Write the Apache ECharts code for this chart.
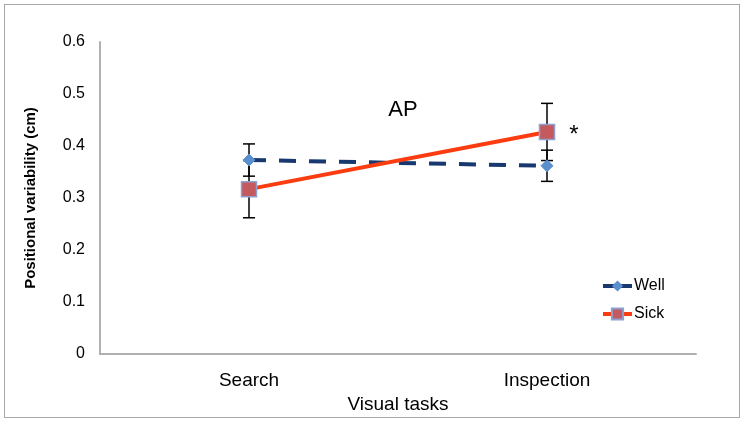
<!DOCTYPE html>
<html>
<head>
<meta charset="UTF-8">
<title>AP</title>
<script type="text/javascript" src="https://cdn.jsdelivr.net/npm/echarts@6/dist/echarts.min.js"></script>
<style>
  body{margin:0;padding:0;background:#fff}
  #frame{position:absolute;left:4px;top:4px;width:736px;height:414px;border:1.5px solid #a8a8a8;box-sizing:border-box}
</style>
</head>
<body>
<div id="frame"></div>
<div id="main" style="position:absolute;left:0;top:0;width:747px;height:424px"></div>
<script type="text/javascript">
  // data
  var tasks = ['Search', 'Inspection'];
  var well = [0.373, 0.362];
  var wellErr = [0.031, 0.030];
  var sick = [0.317, 0.427];
  var sickErr = [0.055, 0.055];

  function errData(vals, errs) {
    return vals.map(function (v, i) {
      return [i, v - errs[i], v + errs[i]];
    });
  }

  function renderErr(params, api) {
    var x = api.value(0);
    var lo = api.coord([x, api.value(1)]);
    var hi = api.coord([x, api.value(2)]);
    var cap = 6;
    var st = { stroke: '#000', lineWidth: 1.5 };
    return {
      type: 'group',
      children: [
        { type: 'line', shape: { x1: lo[0], y1: lo[1], x2: hi[0], y2: hi[1] }, style: st },
        { type: 'line', shape: { x1: lo[0] - cap, y1: lo[1], x2: lo[0] + cap, y2: lo[1] }, style: st },
        { type: 'line', shape: { x1: hi[0] - cap, y1: hi[1], x2: hi[0] + cap, y2: hi[1] }, style: st }
      ]
    };
  }

  // the asterisk sits next to the Inspection point of Sick
  var sickData = sick.map(function (v, i) {
    if (i === 1) {
      return {
        value: v,
        label: { show: true, formatter: '*', position: 'right', distance: 14,
                 fontFamily: 'Liberation Sans', fontSize: 24, color: '#000', offset: [0, 3] }
      };
    }
    return v;
  });

  var myChart = echarts.init(document.getElementById('main'));

  var option = {
    animation: false,
    title: {
      text: 'AP',
      left: 398,
      top: 94,
      textAlign: 'center',
      textStyle: { fontFamily: 'Liberation Sans', fontSize: 22, fontWeight: 'normal', color: '#000' }
    },
    grid: { left: 100, right: 51, top: 42, bottom: 70 },
    legend: {
      orient: 'vertical',
      left: 596,
      top: 273,
      itemGap: 12,
      itemWidth: 29,
      itemHeight: 14,
      textStyle: { fontFamily: 'Liberation Sans', fontSize: 16, color: '#000', padding: [0, 0, 0, -3] },
      data: [
        { name: 'Well', lineStyle: { width: 4, type: 'solid' } },
        { name: 'Sick', lineStyle: { width: 4 } }
      ]
    },
    xAxis: {
      type: 'category',
      data: tasks,
      name: 'Visual tasks',
      nameLocation: 'middle',
      nameGap: 33,
      nameTextStyle: { fontFamily: 'Liberation Sans', fontSize: 19, color: '#000' },
      axisLine: { lineStyle: { color: '#b0b0b0', width: 2 } },
      axisTick: { show: false },
      axisLabel: { fontFamily: 'Liberation Sans', fontSize: 19, color: '#000', margin: 17 }
    },
    yAxis: {
      type: 'value',
      min: 0,
      max: 0.6,
      interval: 0.1,
      name: 'Positional variability (cm)',
      nameLocation: 'middle',
      nameGap: 62,
      nameTextStyle: { fontFamily: 'Liberation Sans', fontSize: 15, fontWeight: 'bold', color: '#000' },
      axisLine: { show: true, lineStyle: { color: '#b0b0b0', width: 2 } },
      axisTick: { show: false },
      splitLine: { show: false },
      axisLabel: { fontFamily: 'Liberation Sans', fontSize: 16, color: '#000', margin: 15 }
    },
    series: [
      {
        type: 'custom',
        renderItem: renderErr,
        data: errData(well, wellErr),
        z: 1
      },
      {
        type: 'custom',
        renderItem: renderErr,
        data: errData(sick, sickErr),
        z: 1
      },
      {
        name: 'Well',
        type: 'line',
        data: well,
        symbol: 'diamond',
        symbolSize: 12,
        lineStyle: { color: '#17396f', width: 4, type: [17, 13] },
        itemStyle: { color: '#5b8fce', borderColor: '#5b8fce' },
        z: 3
      },
      {
        name: 'Sick',
        type: 'line',
        data: sickData,
        symbol: 'rect',
        symbolSize: 15,
        lineStyle: { color: '#fa3c10', width: 4 },
        itemStyle: { color: '#c55a5e', borderColor: '#8ea0d0', borderWidth: 1.5 },
        z: 4
      }
    ]
  };

  myChart.setOption(option);
</script>
</body>
</html>
